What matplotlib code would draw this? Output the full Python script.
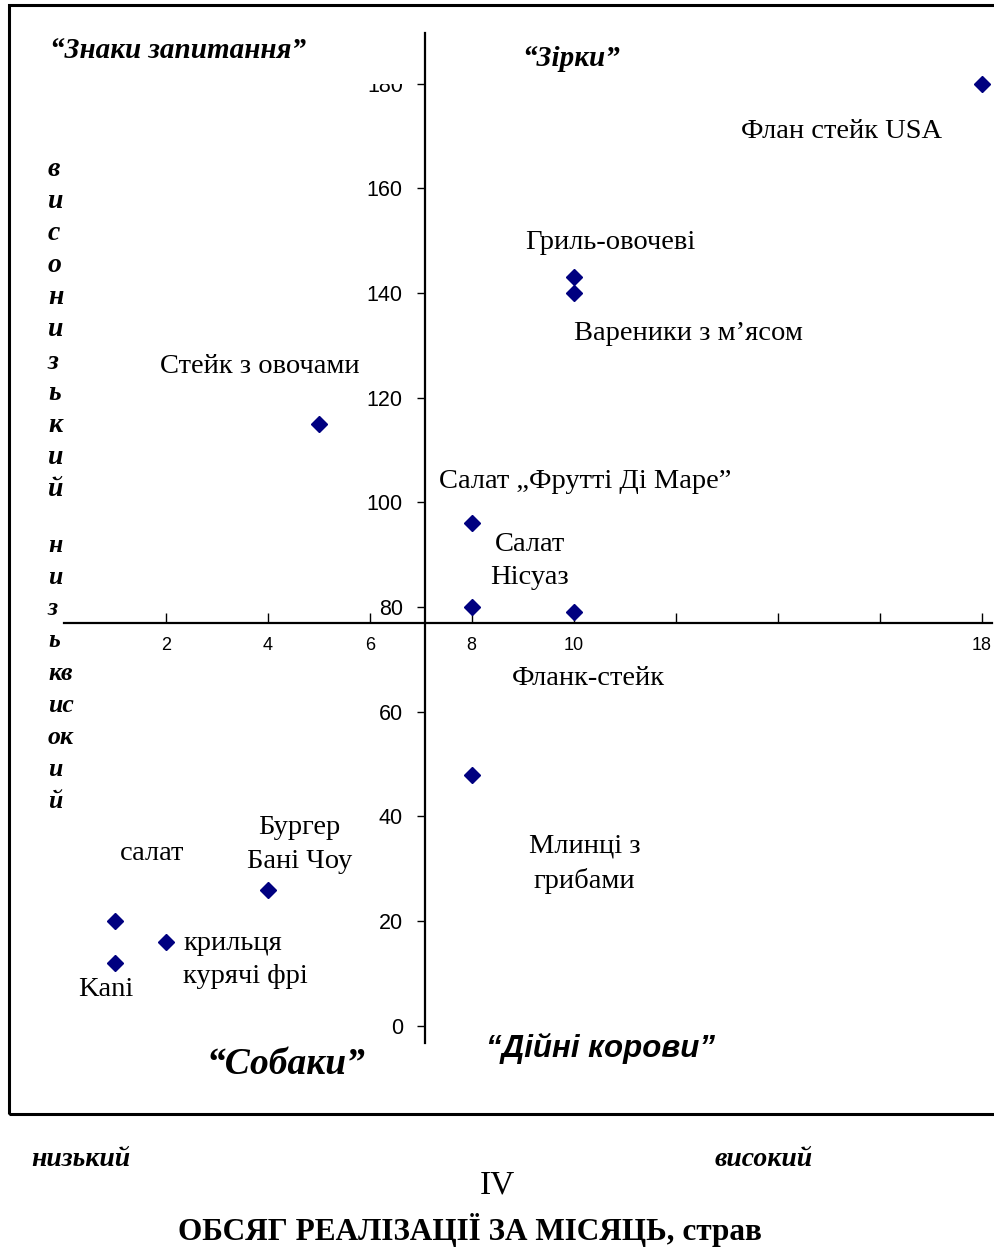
import numpy as np
import matplotlib
matplotlib.use("Agg")
from matplotlib import pyplot as plt
from matplotlib.patches import Rectangle
from matplotlib.transforms import Bbox, TransformedBbox

# dishes: monthly sales volume (x) vs. profit / margin (y)
dishes = ["Флан стейк USA", "Гриль-овочеві", "Вареники з м’ясом", "Стейк з овочами",
          "Салат „Фрутті Ді Маре”", "Салат\nНісуаз", "Фланк-стейк", "Млинці з\nгрибами",
          "Бургер\nБані Чоу", "салат", "крильця\nкурячі фрі", "Kani"]
sales = [18, 10, 10, 5, 8, 8, 10, 8, 4, 1, 2, 1]
profit = [180, 143, 140, 115, 96, 80, 79, 48, 26, 20, 16, 12]

x_ticks = [2, 4, 6, 8, 10, 12, 14, 16, 18]
x_ticklabels = ["2", "4", "6", "8", "10", "", "", "", "18"]
y_ticks = [0, 20, 40, 60, 80, 100, 120, 140, 160, 180]

quadrants = ["“Знаки запитання”", "“Зірки”", "“Собаки”", "“Дійні корови”"]
side_top = ["в", "и", "с", "о", "н", "и", "з", "ь", "к", "и", "й"]
side_bottom = ["н", "и", "з", "ь", "кв", "ис", "ок", "и", "й"]

W, H = 995, 1248
SERIF = "Liberation Serif"
SANS = "Liberation Sans"

# label offsets in pixels from the point
offsets = [(-140, -48), (37, 35), (115, -40), (-59, 57), (113, 42), (58, 46),
           (15, -66), (113, -89), (32, 45), (37, 68), (80, -18), (-9, -27)]
multi_al = ["center"] * 10 + ["left", "center"]


def px(x, y):
    return x / W, 1 - y / H


fig = plt.figure(figsize=(W / 100, H / 100), dpi=100)
fig.patch.set_facecolor("white")

# outer frame
fig.add_artist(Rectangle(px(9, 1114), (1000 - 9) / W, (1114 - 5) / H,
                         transform=fig.transFigure, fill=False, lw=2.2, ec="black", zorder=1))

ax = fig.add_axes([63.7 / W, 1 - 1043 / H, (992 - 63.7) / W, (1043 - 33) / H])
ax.set_facecolor("none")
ax.set_xlim(0, 18.2)
ax.set_ylim(-3.3, 189.7)

x_cross = np.mean(sales)
y_cross = 77
ax.spines["left"].set_position(("data", x_cross))
ax.spines["bottom"].set_position(("data", y_cross))
ax.spines["top"].set_visible(False)
ax.spines["right"].set_visible(False)
ax.spines["left"].set_linewidth(1.6)
ax.spines["bottom"].set_linewidth(1.6)

ax.set_xticks(x_ticks)
ax.set_xticklabels(x_ticklabels)
ax.set_yticks(y_ticks)
ax.tick_params(axis="y", direction="out", length=6, width=1, pad=10, labelsize=15.5)
ax.tick_params(axis="x", direction="in", length=7, width=1, pad=10, labelsize=13)
for lab in ax.get_xticklabels() + ax.get_yticklabels():
    lab.set_family(SANS)

ax.plot(sales, profit, linestyle="none", marker="D", ms=8.5, color="#000080", zorder=3, clip_on=False)

for name, x, y, off, al in zip(dishes, sales, profit, offsets, multi_al):
    ax.annotate(name, (x, y), xytext=off, textcoords="offset pixels", ha="center", va="center",
                multialignment=al, fontsize=20.5, family=SERIF, linespacing=1.45)

# top of the "180" label is cut off in the original
fig.canvas.draw()
lab180 = ax.yaxis.get_major_ticks()[-1].label1
lab180.set_clip_on(True)
lab180.set_clip_box(TransformedBbox(Bbox([[0, 0], [1, 1 - 84 / H]]), fig.transFigure))

# quadrant names
fig.text(*px(50, 50), quadrants[0], ha="left", va="center", fontsize=21, family=SERIF,
         weight="bold", style="italic")
fig.text(*px(522, 58), quadrants[1], ha="left", va="center", fontsize=21, family=SERIF,
         weight="bold", style="italic")
fig.text(*px(286, 1065), quadrants[2], ha="center", va="center", fontsize=27, family=SERIF,
         weight="bold", style="italic")
fig.text(*px(601, 1048), quadrants[3], ha="center", va="center", fontsize=22.5, family=SANS,
         weight="bold", style="italic")

# broken vertical axis title on the left
for i, ch in enumerate(side_top):
    fig.text(*px(48, 170 + 32 * i), ch, ha="left", va="center", fontsize=20, family=SERIF,
             weight="bold", style="italic")
for i, ch in enumerate(side_bottom):
    fig.text(*px(48, 545 + 32 * i), ch, ha="left", va="center", fontsize=18.5, family=SERIF,
             weight="bold", style="italic")

# bottom captions
fig.text(*px(81, 1160), "низький", ha="center", va="center", fontsize=20, family=SERIF,
         weight="bold", style="italic")
fig.text(*px(764, 1160), "високий", ha="center", va="center", fontsize=20, family=SERIF,
         weight="bold", style="italic")
fig.text(*px(497, 1185), "IV", ha="center", va="center", fontsize=24, family=SERIF)
fig.text(*px(470, 1230), "ОБСЯГ РЕАЛІЗАЦІЇ ЗА МІСЯЦЬ, страв", ha="center", va="center",
         fontsize=22.5, family=SERIF, weight="bold")

fig.savefig("out.png", dpi=100)
